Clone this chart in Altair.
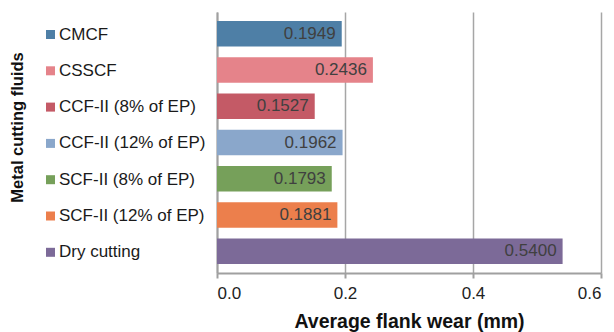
import altair as alt
import pandas as pd

fluids = ["CMCF", "CSSCF", "CCF-II (8% of EP)", "CCF-II (12% of EP)",
          "SCF-II (8% of EP)", "SCF-II (12% of EP)", "Dry cutting"]
wear = [0.1949, 0.2436, 0.1527, 0.1962, 0.1793, 0.1881, 0.5400]
colors = ["#4e7fa6", "#e5838a", "#c45a66", "#8aa7cb", "#76a05a", "#ec7f4c", "#7c6a98"]
x_ticks = [0.0, 0.2, 0.4, 0.6]

df = pd.DataFrame({"fluid": fluids, "wear": wear})

FONT = "Liberation Sans"

y_enc = alt.Y(
    "fluid:N", sort=fluids,
    scale=alt.Scale(paddingInner=0.3, paddingOuter=0.25),
    axis=alt.Axis(
        title="Metal cutting fluids", labels=False, ticks=False, grid=False,
        domainColor="#a0a0a0", domainWidth=2,
        titleFont=FONT, titleFontSize=16.5, titleFontWeight="bold", titleColor="#111111",
        titleAngle=270, titleX=-200, titleY=115, titleBaseline="middle", titleAlign="center",
    ),
)
x_enc = alt.X(
    "wear:Q",
    scale=alt.Scale(domain=[0, 0.6], nice=False),
    axis=alt.Axis(
        values=x_ticks, format=".1f", title="Average flank wear (mm)",
        grid=True, gridColor="#a6a6a6", gridWidth=1.5,
        domainColor="#a0a0a0", domainWidth=2,
        tickColor="#a0a0a0", tickWidth=2, tickSize=5,
        labelFont=FONT, labelFontSize=17, labelColor="#222222", labelPadding=7,
        titleFont=FONT, titleFontSize=19.5, titleFontWeight="bold", titleColor="#111111",
        titleBaseline="alphabetic", titleY=54,
    ),
)

bars = alt.Chart(df).mark_bar().encode(
    x=x_enc,
    y=y_enc,
    color=alt.Color(
        "fluid:N", sort=fluids,
        scale=alt.Scale(domain=fluids, range=colors),
        legend=alt.Legend(
            title=None, orient="none", legendX=-175, legendY=14,
            symbolType="square", symbolSize=81, symbolStrokeWidth=0,
            labelFont=FONT, labelFontSize=17, labelColor="#1a1a1a",
            labelOffset=0, rowPadding=18.3, padding=0,
        ),
    ),
)

text = alt.Chart(df).mark_text(
    align="right", baseline="middle", dx=-6, font=FONT, fontSize=17, color="#404040"
).encode(
    x="wear:Q",
    y=alt.Y("fluid:N", sort=fluids),
    text=alt.Text("wear:Q", format=".4f"),
)

chart = alt.layer(bars, text).properties(
    width=384, height=261,
    autosize=alt.AutoSizeParams(type="none"),
    padding={"left": 217, "top": 12, "right": 13, "bottom": 59},
).configure_view(stroke=None)

chart.save("out.html", embed_options={"renderer": "svg", "actions": False})
